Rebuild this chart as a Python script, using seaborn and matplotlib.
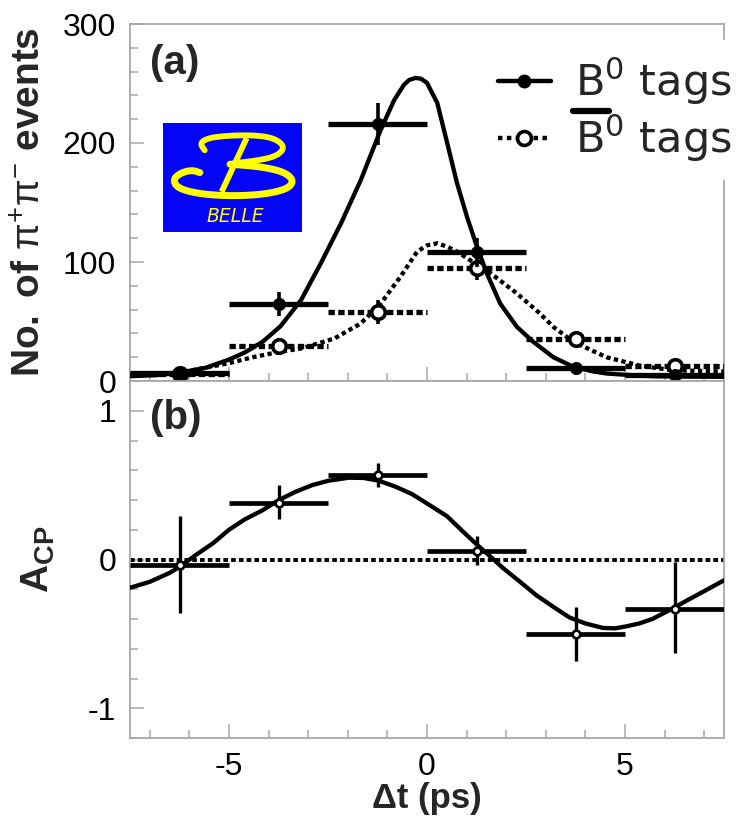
import numpy as np
import pandas as pd
import seaborn as sns
import matplotlib
matplotlib.use("Agg")
import matplotlib.pyplot as plt
from matplotlib.lines import Line2D
from matplotlib.patches import Rectangle
from matplotlib.ticker import MultipleLocator

# ---- binned Δt data (bin centres in ps, half bin width) ----
dt_centres = [-6.25, -3.75, -1.25, 1.25, 3.75, 6.25]
bin_half = 1.25

b0_counts = [7, 65, 216, 108, 11, 5]
b0_err = [3, 10, 18, 12, 4, 2]
b0bar_counts = [6, 29, 58, 95, 35, 13]
b0bar_err = [3, 7, 10, 10, 6, 4]

acp_vals = [-0.04, 0.38, 0.57, 0.06, -0.50, -0.33]
acp_err_lo = [0.32, 0.11, 0.08, 0.10, 0.18, 0.30]
acp_err_hi = [0.33, 0.12, 0.08, 0.10, 0.18, 0.31]

# ---- fit curves ----
b0_fit_t = [-7.5, -6.8, -6.25, -5.6, -5.0, -4.6, -4.15, -3.7, -3.18, -2.68, -2.17,
            -1.67, -1.17, -0.83, -0.58, -0.45, -0.29, -0.15, 0.0, 0.26, 0.51, 0.76,
            1.01, 1.26, 1.51, 1.85, 2.27, 2.68, 3.19, 3.69, 4.2, 4.53, 5.2, 5.7,
            6.5, 7.5]
b0_fit_n = [4, 5, 7, 11, 18, 24, 33, 46, 68, 99, 132.6,
            169, 211, 236, 249, 253, 254.7, 254, 250.5, 233.6, 200, 166,
            138, 113, 90.5, 65, 45.5, 33, 20, 12, 8, 6.3, 4.8, 4,
            3.7, 3.5]

b0bar_fit_t = [-7.5, -6.25, -5.0, -4.4, -3.73, -3.18, -2.34, -1.67, -1.17, -0.67,
               -0.25, 0.0, 0.26, 0.5, 0.76, 1.25, 1.51, 2.27, 2.85, 3.19, 3.69,
               4.53, 5.36, 6.2, 7.5]
b0bar_fit_n = [5, 7, 15, 20, 24.5, 27.3, 35.7, 48.4, 65, 87.6,
               108.7, 114, 115.7, 113, 108.7, 98, 93, 73.6, 56.8, 45.5, 33,
               20, 13, 9, 8]

acp_fit_t = [-7.5, -7.0, -6.5, -6.25, -5.84, -5.4, -5.0, -4.6, -4.16, -3.74,
             -3.32, -2.9, -2.48, -1.97, -1.6, -1.22, -0.8, -0.38, 0.04, 0.51,
             0.9, 1.26, 1.6, 1.93, 2.35, 2.76, 3.2, 3.6, 4.0, 4.44, 4.75, 5.02,
             5.36, 5.69, 6.2, 6.6, 6.95, 7.5]
acp_fit_a = [-0.19, -0.15, -0.09, -0.05, 0.03, 0.11, 0.2, 0.27, 0.33, 0.40,
             0.455, 0.50, 0.53, 0.55, 0.548, 0.53, 0.49, 0.44, 0.37, 0.29,
             0.19, 0.10, 0.02, -0.06, -0.15, -0.24, -0.32, -0.39, -0.43, -0.46, -0.463, -0.45,
             -0.43, -0.40, -0.33, -0.27, -0.22, -0.14]

legend_label = r"B$^{\mathregular{0}}$ tags"
panel_labels = ["(a)", "(b)"]

# ---- style ----
sns.set_theme(style="white")
plt.rcParams["font.family"] = ["Liberation Sans", "DejaVu Sans"]
plt.rcParams["axes.unicode_minus"] = False
plt.rcParams["mathtext.fontset"] = "custom"
plt.rcParams["mathtext.rm"] = "Liberation Sans"
plt.rcParams["mathtext.bf"] = "Liberation Sans:bold"
plt.rcParams["mathtext.it"] = "Liberation Sans:italic"
plt.rcParams["mathtext.sf"] = "Liberation Sans"

W, H = 751, 826
fig = plt.figure(figsize=(W / 100, H / 100), dpi=100)
fig.patch.set_facecolor("white")


def px_axes(left, top, right, bottom):
    return fig.add_axes([left / W, 1 - bottom / H, (right - left) / W, (bottom - top) / H])


ax1 = px_axes(130, 24, 724, 381)
ax2 = px_axes(130, 381, 724, 738)

spine_col = "#a8a8a8"
for ax in (ax1, ax2):
    ax.set_facecolor("white")
    for s in ax.spines.values():
        s.set_color(spine_col)
        s.set_linewidth(1.3)
    ax.set_xlim(-7.5, 7.5)
    ax.set_xticks([-5, 0, 5])
    ax.xaxis.set_minor_locator(MultipleLocator(1))
    ax.tick_params(which="both", direction="in", color=spine_col, width=1.1,
                   labelsize=23, labelcolor="black", bottom=True, left=True,
                   top=False, right=False)
    ax.tick_params(which="major", length=10, pad=10)
    ax.tick_params(which="minor", length=6)

CURVE_LW = 3.1


def fit_line(ax, t, y):
    """Draw a fit curve with seaborn and return the new Line2D."""
    n_before = len(ax.lines)
    sns.lineplot(x=t, y=y, ax=ax, color="black", estimator=None, sort=True, zorder=3)
    line = ax.lines[n_before]
    line.set_linewidth(CURVE_LW)
    return line


# ---- panel (a): event counts ----
ax1.set_ylim(0, 300)
ax1.set_yticks([0, 100, 200, 300])
ax1.yaxis.set_minor_locator(MultipleLocator(20))
ax1.tick_params(axis="x", labelbottom=False)

fit_line(ax1, b0_fit_t, b0_fit_n)
dotted = fit_line(ax1, b0bar_fit_t, b0bar_fit_n)
dotted.set_linestyle((0, (1.0, 0.8)))

lo = [c - bin_half for c in dt_centres]
hi = [c + bin_half for c in dt_centres]
ax1.hlines(b0bar_counts, lo, hi, colors="black", linewidth=3.8,
           linestyles=[(0, (1.2, 0.65))], zorder=4)
ax1.errorbar(dt_centres, b0bar_counts, yerr=b0bar_err, fmt="none",
             ecolor="black", elinewidth=2.6, capsize=0, zorder=4)
sns.scatterplot(x=dt_centres, y=b0bar_counts, ax=ax1, s=95, color="white",
                edgecolor="black", linewidth=2.6, zorder=5)

ax1.hlines(b0_counts, lo, hi, colors="black", linewidth=3.8, zorder=6)
ax1.errorbar(dt_centres, b0_counts, yerr=b0_err, fmt="none",
             ecolor="black", elinewidth=2.6, capsize=0, zorder=6)
sns.scatterplot(x=dt_centres, y=b0_counts, ax=ax1, s=70, color="black",
                edgecolor="black", linewidth=1, zorder=7)

ax1.set_ylabel(r"$\mathbf{No.\ of}\ \mathrm{\pi}^{+}\mathrm{\pi}^{-}\ \mathbf{events}$",
               fontsize=28, va="center")
ax1.yaxis.set_label_coords((30 - 130) / 594, 0.5)
ax1.set_xlabel("")
ax1.text((150 - 130) / 594, (381 - 44) / 357, panel_labels[0], transform=ax1.transAxes,
         ha="left", va="top", fontsize=29, fontweight="bold")

# legend with white box over the frame
h_b0 = Line2D([], [], color="black", lw=3.2, marker="o", ms=9, mfc="black", mec="black")
h_b0bar = Line2D([], [], color="black", lw=3.2, ls=(0, (1, 1)), marker="o", ms=10,
                 mfc="white", mec="black", mew=2.6)
leg = ax1.legend([h_b0, h_b0bar], [legend_label, legend_label],
                 loc="upper left", bbox_to_anchor=(482 / W, 1 - 40 / H),
                 bbox_transform=fig.transFigure, frameon=True, fancybox=False,
                 facecolor="white", edgecolor="white", framealpha=1,
                 prop={"family": "DejaVu Sans", "size": 31},
                 handlelength=1.25, handletextpad=0.55, labelspacing=0.12,
                 borderpad=0.36, borderaxespad=0, numpoints=1)
leg.set_zorder(10)

# ---- panel (b): asymmetry ----
ax2.set_ylim(-1.2, 1.2)
ax2.set_yticks([-1, 0, 1])
ax2.yaxis.set_minor_locator(MultipleLocator(0.2))
ax2.axhline(0, color="black", linewidth=2.8, ls=(0, (1.2, 0.8)), zorder=2)
fit_line(ax2, acp_fit_t, acp_fit_a)
ax2.hlines(acp_vals, lo, hi, colors="black", linewidth=3.4, zorder=4)
ax2.errorbar(dt_centres, acp_vals, yerr=[acp_err_lo, acp_err_hi], fmt="none",
             ecolor="black", elinewidth=2.4, capsize=0, zorder=4)
sns.scatterplot(x=dt_centres, y=acp_vals, ax=ax2, s=30, color="white",
                edgecolor="black", linewidth=1.9, zorder=5)
ax2.set_ylabel(r"$\mathbf{A}_{\mathbf{CP}}$", fontsize=28, va="center")
ax2.yaxis.set_label_coords((38 - 130) / 594, 0.5)
ax2.set_xlabel("\u0394t (ps)", fontsize=25, fontweight="bold", labelpad=0)
ax2.text((150 - 130) / 594, (738 - 399) / 357, panel_labels[1], transform=ax2.transAxes,
         ha="left", va="top", fontsize=29, fontweight="bold")

# ---- Belle logo ----
logo = px_axes(163, 123, 302, 232)
logo.set_xlim(0, 1)
logo.set_ylim(0, 1)
logo.axis("off")
logo.add_patch(Rectangle((0, 0), 1, 1, transform=logo.transAxes, color="#0505f5",
                         zorder=0))


def chaikin(pts, n=3):
    pts = np.asarray(pts, float)
    for _ in range(n):
        q = 0.75 * pts[:-1] + 0.25 * pts[1:]
        r = 0.25 * pts[:-1] + 0.75 * pts[1:]
        mid = np.empty((2 * len(q), 2))
        mid[0::2] = q
        mid[1::2] = r
        pts = np.vstack([pts[:1], mid, pts[-1:]])
    return pts


yellow = "#ffff00"
upper = [(0.30, 0.75), (0.265, 0.815), (0.325, 0.862), (0.458, 0.883), (0.627, 0.889),
         (0.771, 0.871), (0.855, 0.815), (0.867, 0.754), (0.807, 0.692),
         (0.675, 0.655), (0.506, 0.631)]
stem = [(0.602, 0.862), (0.422, 0.369)]
lower = [(0.482, 0.622), (0.699, 0.60), (0.867, 0.554), (0.94, 0.477), (0.904, 0.40),
         (0.747, 0.348), (0.506, 0.329), (0.265, 0.348), (0.108, 0.40), (0.072, 0.477),
         (0.12, 0.538), (0.205, 0.569), (0.265, 0.545)]
for stroke, lw in ((upper, 4.2), (lower, 5.0)):
    p = chaikin(stroke)
    logo.plot(p[:, 0], p[:, 1], color=yellow, lw=lw, solid_capstyle="round",
              solid_joinstyle="round")
logo.plot([stem[0][0], stem[1][0]], [stem[0][1], stem[1][1]], color=yellow, lw=4.2,
          solid_capstyle="butt")
logo.text(0.52, 0.14, "BELLE", color=yellow, fontsize=13.5, style="italic",
          family="DejaVu Sans", ha="center", va="center")

# ---- overline on the second legend entry (anti-B) ----
fig.canvas.draw()
renderer = fig.canvas.get_renderer()
t2 = leg.get_texts()[1]
bb = t2.get_window_extent(renderer)
probe = fig.text(0, 0, "B", fontproperties=t2.get_fontproperties())
bw = probe.get_window_extent(renderer).width
probe.remove()
y_bar = bb.y1 + 1
fig.add_artist(Line2D([bb.x0 - 2, bb.x0 + bw + 4], [y_bar, y_bar], color="black",
                      lw=4.5, transform=None, zorder=20))

fig.savefig("out.png", dpi=100, facecolor="white")
